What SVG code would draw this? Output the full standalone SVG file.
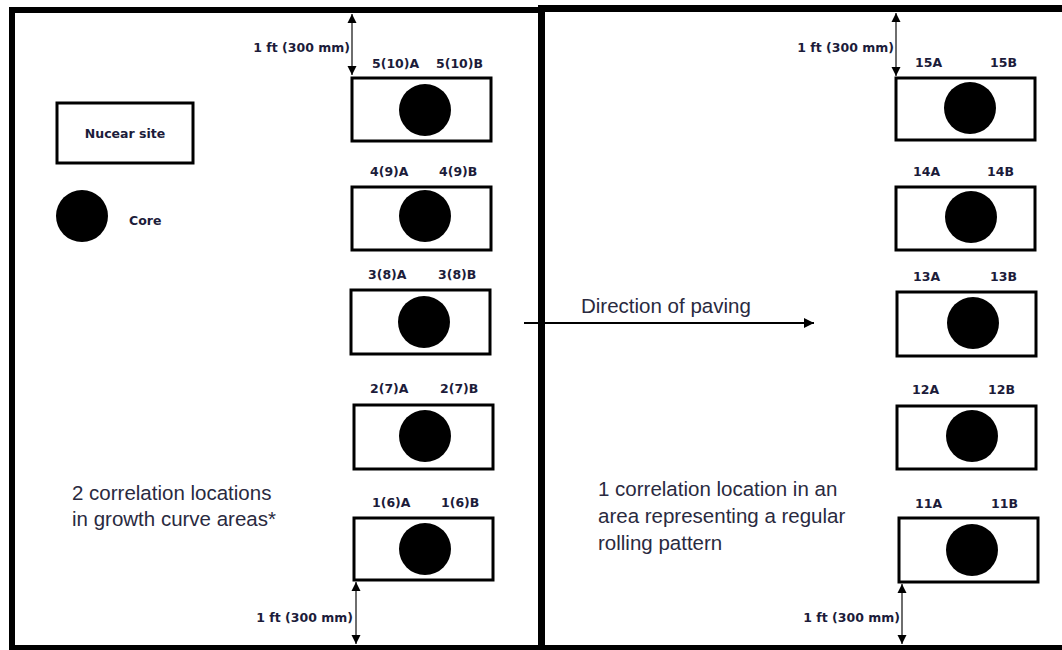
<svg xmlns="http://www.w3.org/2000/svg" width="1062" height="650" viewBox="0 0 1062 650">
  <style>
    .frame { stroke: #000; fill: none; }
    .box { fill: #fff; stroke: #000; stroke-width: 3; }
    .core { fill: #000; }
    .lbl { font-family: "DejaVu Sans", "Liberation Sans", sans-serif; font-weight: bold; font-size: 12.5px; fill: #1c1c3a; }
    .txt { font-family: "Liberation Sans", Arial, sans-serif; font-size: 20.5px; fill: #2a2a40; }
    .dim { stroke: #6e6e6e; stroke-width: 2; fill: none; marker-start: url(#head); marker-end: url(#head); }
  </style>
  <defs>
    <marker id="head" viewBox="0 0 10 10" refX="10" refY="5" markerWidth="4.5" markerHeight="5" markerUnits="strokeWidth" orient="auto-start-reverse">
      <path d="M0,0 L10,5 L0,10 z" fill="#000"/>
    </marker>
    <marker id="arr" viewBox="0 0 10 10" refX="10" refY="5" markerWidth="6" markerHeight="5" markerUnits="strokeWidth" orient="auto">
      <path d="M0,0 L10,5 L0,10 z" fill="#000"/>
    </marker>
  </defs>

  <g id="frame">
    <line class="frame" x1="12" y1="7" x2="12" y2="650" stroke-width="6"/>
    <line class="frame" x1="9" y1="10" x2="541" y2="10" stroke-width="6"/>
    <line class="frame" x1="538" y1="8.5" x2="1062" y2="8.5" stroke-width="7"/>
    <line class="frame" x1="541.5" y1="5" x2="541.5" y2="650" stroke-width="7"/>
    <line class="frame" x1="9" y1="648" x2="1062" y2="648" stroke-width="6"/>
  </g>

  <g id="connectors">
    <line class="dim" x1="352" y1="14" x2="352" y2="75"/>
    <line class="dim" x1="356" y1="582" x2="356" y2="644"/>
    <line class="dim" x1="896" y1="13" x2="896" y2="76"/>
    <line class="dim" x1="902" y1="584" x2="902" y2="644"/>
    <line x1="524" y1="323" x2="814" y2="323" stroke="#000" stroke-width="2" marker-end="url(#arr)"/>
  </g>

  <g id="legend-site">
    <rect class="box" x="57" y="103" width="136" height="60"/>
    <text class="lbl" x="125" y="138" text-anchor="middle">Nucear site</text>
  </g>
  <g id="legend-core">
    <circle class="core" cx="82" cy="216" r="26"/>
    <text class="lbl" x="129" y="225">Core</text>
  </g>

  <g id="dim-labels">
    <text class="lbl" x="350" y="52" text-anchor="end">1 ft (300 mm)</text>
    <text class="lbl" x="353" y="622" text-anchor="end">1 ft (300 mm)</text>
    <text class="lbl" x="894" y="52" text-anchor="end">1 ft (300 mm)</text>
    <text class="lbl" x="900" y="622" text-anchor="end">1 ft (300 mm)</text>
  </g>

  <g id="notes">
    <text class="txt" x="72" y="500">2 correlation locations</text>
    <text class="txt" x="72" y="526">in growth curve areas*</text>
    <text class="txt" x="581" y="313">Direction of paving</text>
    <text class="txt" x="598" y="496">1 correlation location in an</text>
    <text class="txt" x="598" y="523">area representing a regular</text>
    <text class="txt" x="598" y="550">rolling pattern</text>
  </g>

  <g id="loc-5">
    <text class="lbl" x="372" y="68">5(10)A</text>
    <text class="lbl" x="436" y="68">5(10)B</text>
    <rect class="box" x="352" y="78" width="139" height="63"/>
    <circle class="core" cx="425" cy="110" r="26"/>
  </g>
  <g id="loc-4">
    <text class="lbl" x="370" y="176">4(9)A</text>
    <text class="lbl" x="439" y="176">4(9)B</text>
    <rect class="box" x="352" y="187" width="139" height="63"/>
    <circle class="core" cx="425" cy="216" r="26"/>
  </g>
  <g id="loc-3">
    <text class="lbl" x="368" y="279">3(8)A</text>
    <text class="lbl" x="438" y="279">3(8)B</text>
    <rect class="box" x="351" y="290" width="139" height="64"/>
    <circle class="core" cx="424" cy="322" r="26"/>
  </g>
  <g id="loc-2">
    <text class="lbl" x="370" y="393">2(7)A</text>
    <text class="lbl" x="440" y="393">2(7)B</text>
    <rect class="box" x="354" y="405" width="139" height="64"/>
    <circle class="core" cx="425" cy="436" r="26"/>
  </g>
  <g id="loc-1">
    <text class="lbl" x="372" y="507">1(6)A</text>
    <text class="lbl" x="441" y="507">1(6)B</text>
    <rect class="box" x="354" y="518" width="139" height="62"/>
    <circle class="core" cx="425" cy="549" r="26"/>
  </g>

  <g id="loc-15">
    <text class="lbl" x="915" y="67">15A</text>
    <text class="lbl" x="990" y="67">15B</text>
    <rect class="box" x="896" y="78" width="139" height="62"/>
    <circle class="core" cx="970" cy="108" r="26"/>
  </g>
  <g id="loc-14">
    <text class="lbl" x="913" y="176">14A</text>
    <text class="lbl" x="987" y="176">14B</text>
    <rect class="box" x="896" y="187" width="139" height="63"/>
    <circle class="core" cx="971" cy="217" r="26"/>
  </g>
  <g id="loc-13">
    <text class="lbl" x="913" y="281">13A</text>
    <text class="lbl" x="990" y="281">13B</text>
    <rect class="box" x="897" y="292" width="139" height="64"/>
    <circle class="core" cx="973" cy="323" r="26"/>
  </g>
  <g id="loc-12">
    <text class="lbl" x="912" y="394">12A</text>
    <text class="lbl" x="988" y="394">12B</text>
    <rect class="box" x="897" y="406" width="139" height="63"/>
    <circle class="core" cx="972" cy="436" r="26"/>
  </g>
  <g id="loc-11">
    <text class="lbl" x="915" y="508">11A</text>
    <text class="lbl" x="991" y="508">11B</text>
    <rect class="box" x="899" y="518" width="139" height="64"/>
    <circle class="core" cx="972" cy="550" r="26"/>
  </g>
</svg>
